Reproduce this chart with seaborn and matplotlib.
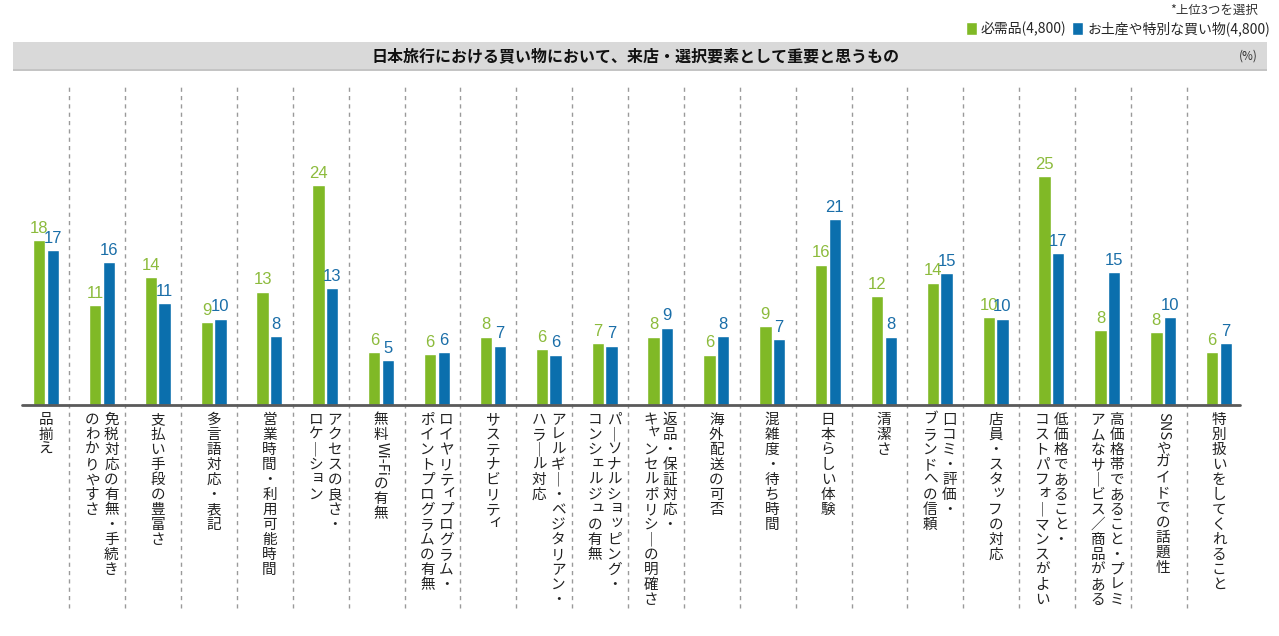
import pandas as pd
import seaborn as sns
import matplotlib.pyplot as plt
from matplotlib.patches import Rectangle
from matplotlib.font_manager import FontProperties
from matplotlib.textpath import TextPath

# labels: each entry is a list of vertical columns (first column is drawn on the right)
items = [
    ["品揃え"],
    ["免税対応の有無・手続き", "のわかりやすさ"],
    ["支払い手段の豊富さ"],
    ["多言語対応・表記"],
    ["営業時間・利用可能時間"],
    ["アクセスの良さ・", "ロケーション"],
    ["無料Wi-Fiの有無"],
    ["ロイヤリティプログラム・", "ポイントプログラムの有無"],
    ["サステナビリティ"],
    ["アレルギー・ベジタリアン・", "ハラール対応"],
    ["パーソナルショッピング・", "コンシェルジュの有無"],
    ["返品・保証対応・", "キャンセルポリシーの明確さ"],
    ["海外配送の可否"],
    ["混雑度・待ち時間"],
    ["日本らしい体験"],
    ["清潔さ"],
    ["口コミ・評価・", "ブランドへの信頼"],
    ["店員・スタッフの対応"],
    ["低価格であること・", "コストパフォーマンスがよい"],
    ["高価格帯であること・プレミ", "アムなサービス／商品がある"],
    ["SNSやガイドでの話題性"],
    ["特別扱いをしてくれること"],
]
necessities = [18.3, 11.1, 14.2, 9.2, 12.6, 24.4, 5.9, 5.7, 7.6, 6.2, 6.9,
               7.6, 5.6, 8.8, 15.6, 12.1, 13.6, 9.8, 25.4, 8.3, 8.1, 5.9]
souvenirs = [17.2, 15.9, 11.3, 9.6, 7.7, 13.0, 5.0, 5.9, 6.6, 5.6, 6.6,
             8.6, 7.7, 7.3, 20.7, 7.6, 14.7, 9.6, 16.9, 14.8, 9.8, 6.9]
series = ["必需品(4,800)", "お土産や特別な買い物(4,800)"]
title = "日本旅行における買い物において、来店・選択要素として重要と思うもの"
note = "*上位3つを選択"

green, blue = "#80b926", "#0b6fad"
green_txt, blue_txt = "#8cbb3c", "#1a6ea8"

names = ["\n".join(c) for c in items]
df = pd.DataFrame({
    "item": names * 2,
    "value": necessities + souvenirs,
    "series": [series[0]] * len(names) + [series[1]] * len(names),
})

sns.set_theme(style="white")
plt.rcParams["font.family"] = ["Noto Sans CJK JP", "DejaVu Sans"]

fig = plt.figure(figsize=(12.79, 6.36), dpi=100)
W, H = 1279, 636
ax = fig.add_axes([18.07 / W, 1 - 405 / H, (1247 - 18.07) / W, 322 / H])

sns.barplot(data=df, x="item", y="value", hue="series", order=names,
            palette=[green, blue], width=0.49, gap=0.1, saturation=1,
            legend=True, ax=ax)

ax.set_xlim(-0.5, len(names) - 0.5)
ax.set_ylim(0, 322 / 9.0)
ax.set_xlabel("")
ax.set_ylabel("")
ax.set_xticks([])
ax.set_yticks([])
for s in ax.spines.values():
    s.set_visible(False)

# value labels
for cont, col in zip(ax.containers, [green_txt, blue_txt]):
    ax.bar_label(cont, fmt="%.0f", padding=3, color=col, fontsize=12,
                 family=["Liberation Sans", "DejaVu Sans"])

# dashed separators running down into the label area
for i in range(len(names) - 1):
    ax.axvline(i + 0.42, ymin=-203 / 322, ymax=1, color="#9a9a9a", lw=1,
               ls=(0, (3, 3)), clip_on=False, zorder=0)

# baseline
ax.plot([-0.43, 21.37], [0, 0], color="#5a5a5a", lw=2, clip_on=False, zorder=3)

# vertical (tategaki) category labels
fs = 10.5
adv = 15 * 0.72
small = set("ャュョッィォァェ")
fp = FontProperties(family="Noto Sans CJK JP", size=fs)
for i, cols in enumerate(items):
    n = len(cols)
    for j, col in enumerate(cols):
        dx = (9.5 if j == 0 else -9.5) * 0.72 if n == 2 else 0
        y = 8 * 0.72
        k = 0
        while k < len(col):
            ch = col[k]
            if ch.isascii():
                run = ch
                while k + 1 < len(col) and col[k + 1].isascii():
                    k += 1
                    run += col[k]
                w = TextPath((0, 0), run, prop=fp).get_extents().width
                ax.annotate(run, xy=(i, 0), xytext=(dx, -y + 1),
                            textcoords="offset points", ha="center", va="top",
                            rotation=-90, fontsize=fs, color="#222222",
                            annotation_clip=False)
                y += w + 1
            else:
                if ch == "ー":
                    ch = "｜"
                ox, oy = (2.0, 2.5) if ch in small else (0, 0)
                ax.annotate(ch, xy=(i, 0), xytext=(dx + ox, -y + oy),
                            textcoords="offset points", ha="center", va="top",
                            fontsize=fs, color="#222222", annotation_clip=False)
                y += adv
            k += 1

# title band
fig.patches.append(Rectangle((13 / W, 1 - 70 / H), (1267 - 13) / W, 28 / H,
                             transform=fig.transFigure, facecolor="#d9d9d9",
                             edgecolor="none", zorder=0))
fig.patches.append(Rectangle((13 / W, 1 - 71 / H), (1267 - 13) / W, 2 / H,
                             transform=fig.transFigure, facecolor="#c4c4c4",
                             edgecolor="none", zorder=0))
fig.text(636 / W, 1 - 56 / H, title, ha="center", va="center", fontsize=11.5,
         fontweight="bold", color="#111111")
fig.text(1258 / W, 1 - 56 / H, "(%)", ha="right", va="center", fontsize=8.5,
         color="#333333")
fig.text(1258 / W, 1 - 10 / H, note, ha="right", va="center", fontsize=9,
         color="#333333")

# legend
handles, labels = ax.get_legend_handles_labels()
ax.get_legend().remove()
fig.legend(handles, labels, loc="center right",
           bbox_to_anchor=(1270 / W, 1 - 29 / H), ncol=2, frameon=False,
           fontsize=10, handlelength=0.8, handleheight=1.0,
           handletextpad=0.3, columnspacing=0.4, borderpad=0, borderaxespad=0)

fig.savefig("out.png", dpi=100)
